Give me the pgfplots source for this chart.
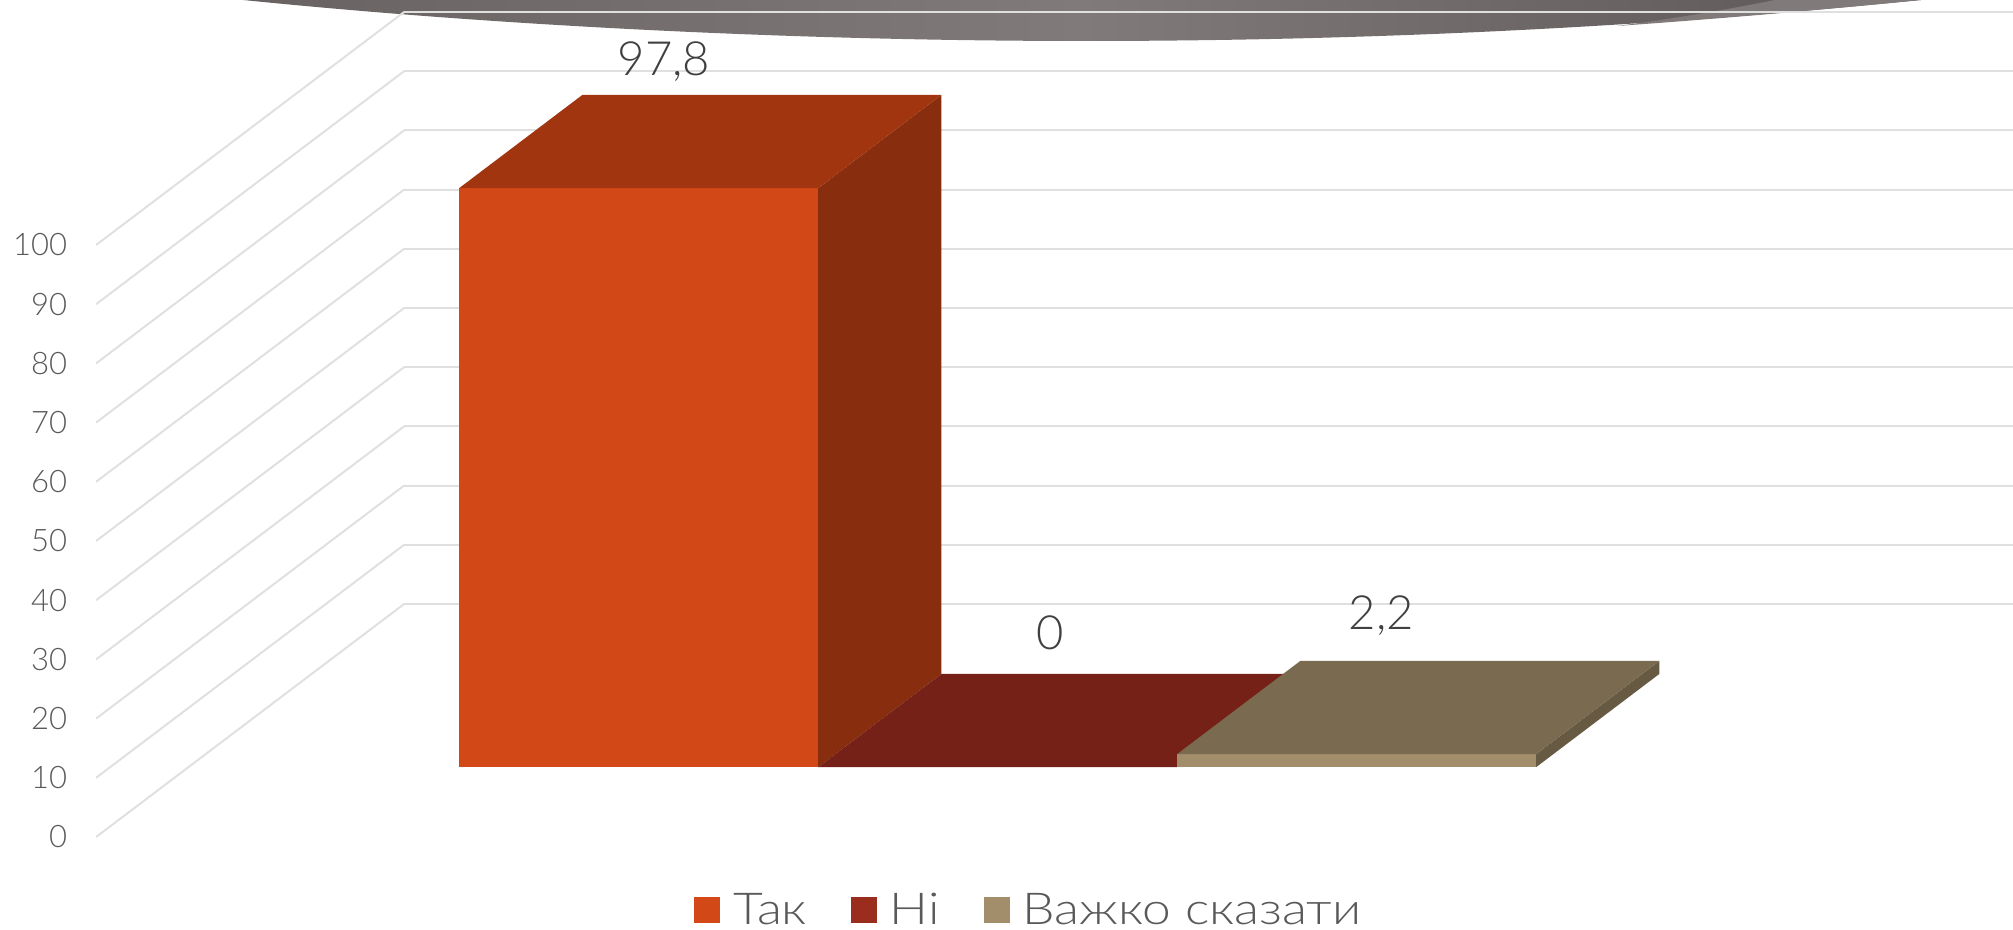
\documentclass[border=0pt]{standalone}
\usepackage{pgfplots}
\pgfplotsset{compat=1.18}
\usepackage{fontspec}
\setmainfont{Lato}[UprightFont={* Light}]
\newfontfamily\legfont{Lato}[UprightFont={* Light},FakeStretch=1.17]
\definecolor{gridc}{HTML}{E0E0E0}
\definecolor{txt}{HTML}{595959}
\definecolor{lab}{HTML}{404040}
\definecolor{aF}{HTML}{D34817}
\definecolor{aT}{HTML}{A0350F}
\definecolor{aS}{HTML}{882D0E}
\definecolor{bF}{HTML}{9B2D1F}
\definecolor{bT}{HTML}{762117}
\definecolor{cF}{HTML}{A28E6A}
\definecolor{cT}{HTML}{7A6B50}
\definecolor{cS}{HTML}{675A43}
\definecolor{dkL}{HTML}{686262}
\definecolor{dkR}{HTML}{5C5756}
\definecolor{md}{HTML}{807A7A}
\begin{document}
\begin{tikzpicture}
\path[use as bounding box] (0,0) rectangle (1006.5pt,465pt);
\clip (0,0) rectangle (1006.5pt,465pt);
% decorative swoosh at the top of the slide
\begin{scope}[x=0.5pt,y=-0.5pt,yshift=465pt]
\shade[left color=dkL,right color=dkR,middle color=md]
  (243,-4) -- (243,0) .. controls (500,26) and (800,41) .. (1085,41)
  .. controls (1400,41) and (1680,24) .. (1921,0) -- (1921,-4) -- cycle;
\fill[color=md] (1617,26) .. controls (1680,18) and (1735,8) .. (1775,0) -- (1921,0) .. controls (1830,9) and (1730,18) .. (1617,26) -- cycle;
\end{scope}
\begin{axis}[
  anchor=origin, at={(272.25pt,46.5pt)},
  x={(179.5pt,0pt)}, y={(154pt,116.5pt)}, z={(0pt,2.96pt)},
  xmin=-1.249, xmax=3.233, ymin=0, ymax=1, zmin=0, zmax=100,
  xtick=\empty, ytick=\empty, ztick={0,10,...,100},
  zmajorgrids, grid style={gridc,line width=1pt},
  axis line style={draw=none}, tick style={draw=none},
  clip=false,
  z tick label style={text=txt,font=\fontsize{15.5}{18}\selectfont,anchor=east,xshift=-11pt},
  /pgf/number format/assume math mode=true,
  legend columns=3,
  legend image code/.code={\fill[#1,draw=none] (0pt,-6.5pt) rectangle (13pt,6.5pt);},
  legend style={draw=none,fill=none,inner sep=0pt,at={(axis cs:0.416,0,-12.4)},anchor=west,
    font=\legfont\fontsize{22}{24}\selectfont,text=txt,
    /tikz/every odd column/.style={column sep=4.5pt},
    /tikz/every even column/.style={column sep=20pt}},
]
\addlegendimage{fill=aF}
\addlegendentry{Так}
\addlegendimage{fill=bF}
\addlegendentry{Ні}
\addlegendimage{fill=cF}
\addlegendentry{Важко сказати}
% Tak = 97.8
\addplot3[forget plot,no marks,draw=none,fill=aF] coordinates {(-0.495,0.30,0) (0.505,0.30,0) (0.505,0.30,97.8) (-0.495,0.30,97.8)};
\addplot3[forget plot,no marks,draw=none,fill=aS] coordinates {(0.505,0.30,0) (0.505,0.70,0) (0.505,0.70,97.8) (0.505,0.30,97.8)};
\addplot3[forget plot,no marks,draw=none,fill=aT] coordinates {(-0.495,0.30,97.8) (0.505,0.30,97.8) (0.505,0.70,97.8) (-0.495,0.70,97.8)};
% Ni = 0
\addplot3[forget plot,no marks,draw=none,fill=bT] coordinates {(0.505,0.30,0) (1.505,0.30,0) (1.505,0.70,0) (0.505,0.70,0)};
% Vazhko = 2.2
\addplot3[forget plot,no marks,draw=none,fill=cF] coordinates {(1.505,0.30,0) (2.505,0.30,0) (2.505,0.30,2.2) (1.505,0.30,2.2)};
\addplot3[forget plot,no marks,draw=none,fill=cS] coordinates {(2.505,0.30,0) (2.505,0.70,0) (2.505,0.70,2.2) (2.505,0.30,2.2)};
\addplot3[forget plot,no marks,draw=none,fill=cT] coordinates {(1.505,0.30,2.2) (2.505,0.30,2.2) (2.505,0.70,2.2) (1.505,0.70,2.2)};
% data labels
\addplot3[forget plot,only marks,mark=none,point meta=explicit symbolic,nodes near coords,
  nodes near coords style={anchor=center,yshift=16pt,text=lab,font=\fontsize{23.6}{26}\selectfont}]
  coordinates {(-0.272,0.705,97.8) [{97,8}]};
\addplot3[forget plot,only marks,mark=none,point meta=explicit symbolic,nodes near coords,
  nodes near coords style={anchor=center,yshift=20pt,text=lab,font=\fontsize{23.6}{26}\selectfont}]
  coordinates {(0.804,0.705,0) [{0}]};
\addplot3[forget plot,only marks,mark=none,point meta=explicit symbolic,nodes near coords,
  nodes near coords style={anchor=center,yshift=22pt,text=lab,font=\fontsize{23.6}{26}\selectfont}]
  coordinates {(1.726,0.705,2.2) [{2,2}]};
\end{axis}
\end{tikzpicture}
\end{document}
